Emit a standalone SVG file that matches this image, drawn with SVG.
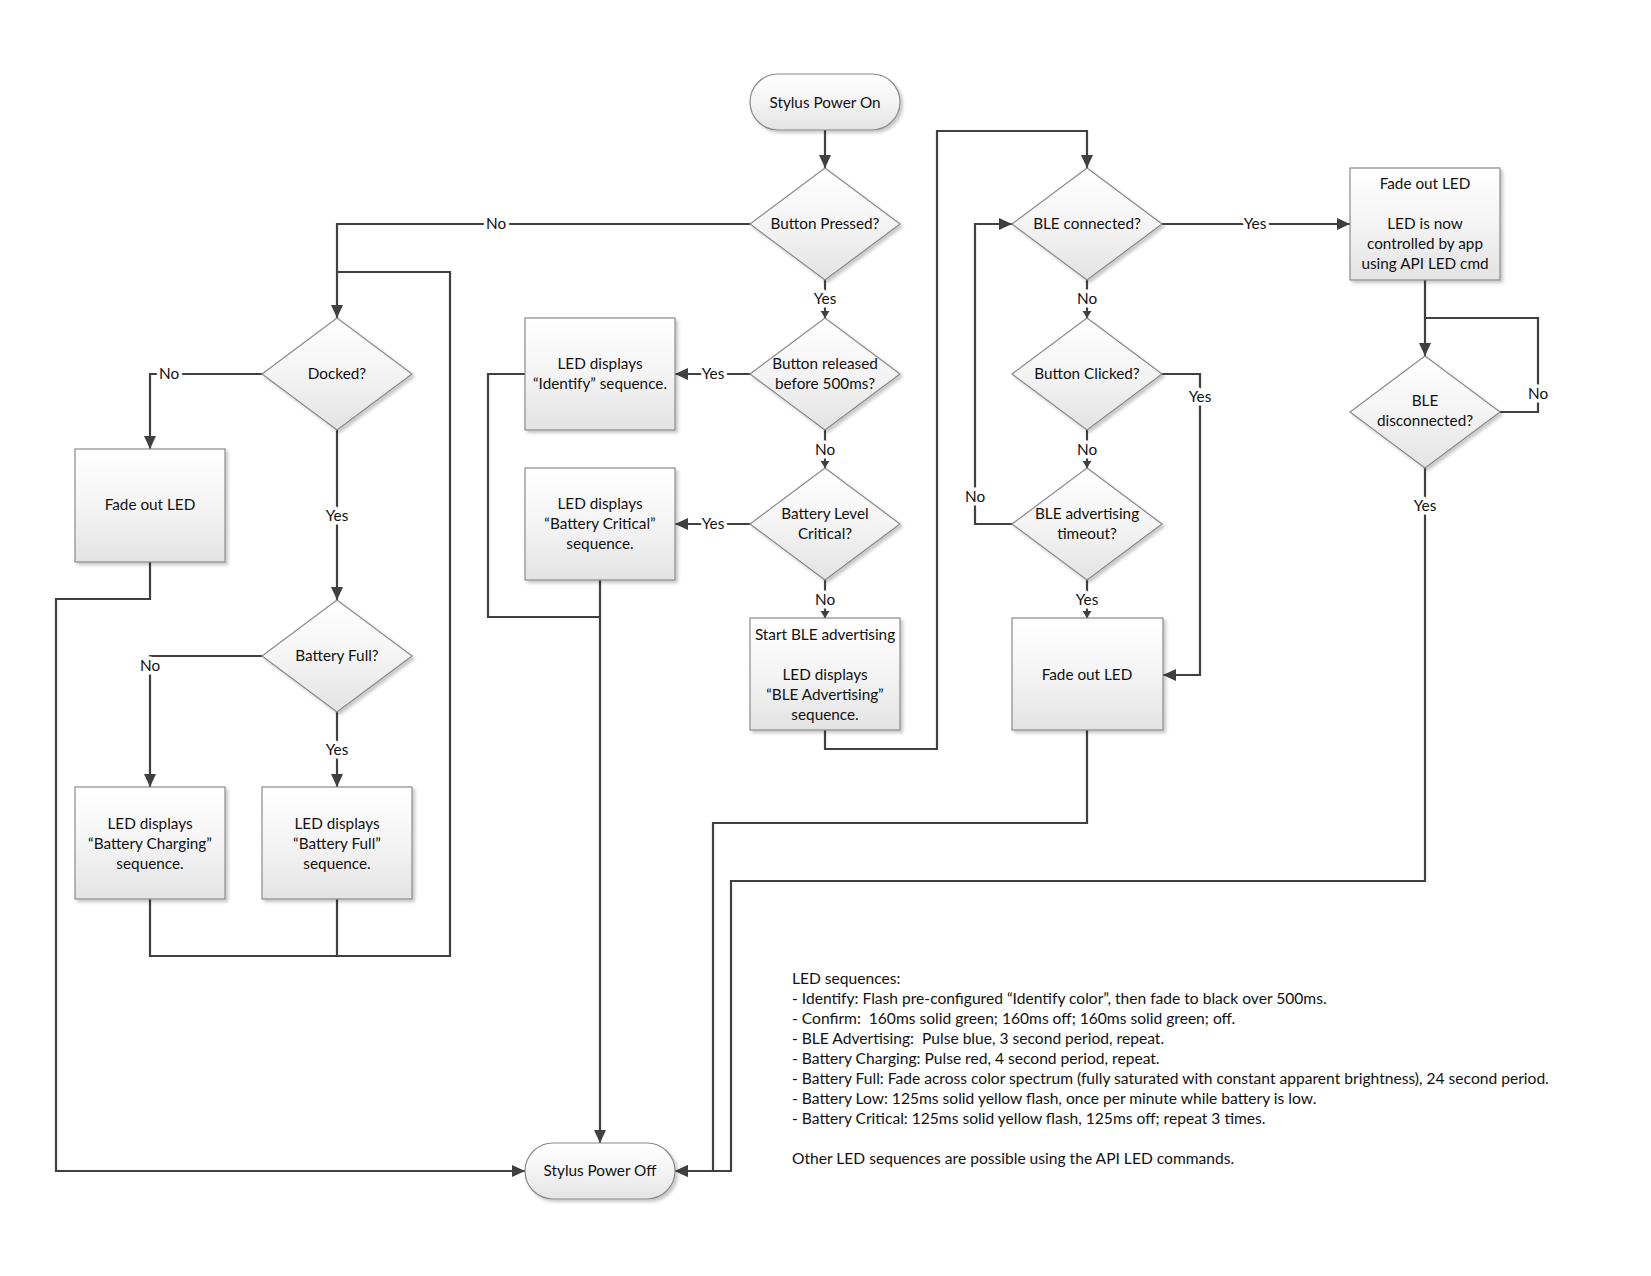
<svg xmlns="http://www.w3.org/2000/svg" width="1651" height="1276" viewBox="0 0 1651 1276">
<defs>
<linearGradient id="g" x1="0" y1="0" x2="0" y2="1">
<stop offset="0" stop-color="#ffffff"/>
<stop offset="0.5" stop-color="#f4f4f4"/>
<stop offset="1" stop-color="#e3e3e3"/>
</linearGradient>
<filter id="sh" x="-10%" y="-10%" width="125%" height="125%">
<feDropShadow dx="2.5" dy="2.5" stdDeviation="1.5" flood-color="#000" flood-opacity="0.22"/>
</filter>
<marker id="ab" markerUnits="userSpaceOnUse" markerWidth="14" markerHeight="12" refX="13" refY="6" orient="auto">
<path d="M0,0 L13,6 L0,12 z" fill="#404040"/>
</marker>
<marker id="as" markerUnits="userSpaceOnUse" markerWidth="8" markerHeight="10" refX="7" refY="5" orient="auto">
<path d="M0,0.5 L7,5 L0,9.5 z" fill="#404040"/>
</marker>
</defs>
<style>
.shape{fill:url(#g);stroke:#8a8a8a;stroke-width:1.2;filter:url(#sh)}
.t{font-family:Lato,"Liberation Sans",sans-serif;font-size:15.3px;fill:#111;text-anchor:middle}
.lbl{font-family:Lato,"Liberation Sans",sans-serif;font-size:15.3px;fill:#111;text-anchor:middle;stroke:#fff;stroke-width:7;stroke-linejoin:round;paint-order:stroke}
.c{fill:none;stroke:#404040;stroke-width:2.2}
.big{marker-end:url(#ab)}
.sm{marker-end:url(#as)}
.leg{font-family:Lato,"Liberation Sans",sans-serif;font-size:15.6px;fill:#111}
</style>
<rect width="1651" height="1276" fill="#fff"/>

<g id="connectors">
<path class="c big" d="M825,130 V168"/>
<path class="c big" d="M750,224 H337 V318"/>
<path class="c" d="M150,899 V956 H450 V272 H337"/>
<path class="c" d="M337,899 V956"/>
<path class="c big" d="M262,374 H150 V449"/>
<path class="c big" d="M337,430 V600"/>
<path class="c big" d="M150,562 V599 H56 V1171 H525"/>
<path class="c big" d="M262,656 H150 V787"/>
<path class="c big" d="M337,712 V787"/>
<path class="c sm" d="M825,280 V318"/>
<path class="c big" d="M750,374 H675"/>
<path class="c sm" d="M825,430 V468"/>
<path class="c big" d="M750,524 H675"/>
<path class="c sm" d="M825,580 V618"/>
<path class="c" d="M525,374 H488 V617 H600"/>
<path class="c big" d="M600,580 V1143"/>
<path class="c big" d="M825,730 V749 H937 V131 H1087 V168"/>
<path class="c sm" d="M1087,280 V318"/>
<path class="c sm" d="M1087,430 V468"/>
<path class="c sm" d="M1087,580 V618"/>
<path class="c big" d="M1012,524 H975 V224 H1012"/>
<path class="c big" d="M1162,374 H1200 V675 H1163"/>
<path class="c big" d="M1162,224 H1350"/>
<path class="c big" d="M1087,730 V823 H713 V1171 H675"/>
<path class="c big" d="M1425,280 V356"/>
<path class="c" d="M1500,412 H1538 V318 H1425"/>
<path class="c big" d="M1425,468 V881 H731 V1171 H675"/>
<text class="lbl" x="496" y="229">No</text>
<text class="lbl" x="169" y="379">No</text>
<text class="lbl" x="337" y="521">Yes</text>
<text class="lbl" x="150" y="671">No</text>
<text class="lbl" x="337" y="755">Yes</text>
<text class="lbl" x="825" y="304">Yes</text>
<text class="lbl" x="713" y="379">Yes</text>
<text class="lbl" x="825" y="455">No</text>
<text class="lbl" x="713" y="529">Yes</text>
<text class="lbl" x="825" y="605">No</text>
<text class="lbl" x="1087" y="304">No</text>
<text class="lbl" x="1087" y="455">No</text>
<text class="lbl" x="1087" y="605">Yes</text>
<text class="lbl" x="975" y="502">No</text>
<text class="lbl" x="1200" y="402">Yes</text>
<text class="lbl" x="1255" y="229">Yes</text>
<text class="lbl" x="1538" y="399">No</text>
<text class="lbl" x="1425" y="511">Yes</text>
</g>

<g id="power-on">
<rect class="shape" x="750" y="74" width="150" height="56" rx="28"/>
<text class="t" x="825" y="108">Stylus Power On</text>
</g>
<g id="button-pressed">
<polygon class="shape" points="750,224 825,168 900,224 825,280"/>
<text class="t" x="825" y="229">Button Pressed?</text>
</g>
<g id="docked">
<polygon class="shape" points="262,374 337,318 412,374 337,430"/>
<text class="t" x="337" y="379">Docked?</text>
</g>
<g id="fade-out-left">
<rect class="shape" x="75" y="449" width="150" height="113"/>
<text class="t" x="150" y="510">Fade out LED</text>
</g>
<g id="battery-full">
<polygon class="shape" points="262,656 337,600 412,656 337,712"/>
<text class="t" x="337" y="661">Battery Full?</text>
</g>
<g id="led-charging">
<rect class="shape" x="75" y="787" width="150" height="112"/>
<text class="t" x="150" y="829">LED displays</text>
<text class="t" x="150" y="849">“Battery Charging”</text>
<text class="t" x="150" y="869">sequence.</text>
</g>
<g id="led-full">
<rect class="shape" x="262" y="787" width="150" height="112"/>
<text class="t" x="337" y="829">LED displays</text>
<text class="t" x="337" y="849">“Battery Full”</text>
<text class="t" x="337" y="869">sequence.</text>
</g>
<g id="button-released">
<polygon class="shape" points="750,374 825,318 900,374 825,430"/>
<text class="t" x="825" y="369">Button released</text>
<text class="t" x="825" y="389">before 500ms?</text>
</g>
<g id="led-identify">
<rect class="shape" x="525" y="318" width="150" height="112"/>
<text class="t" x="600" y="369">LED displays</text>
<text class="t" x="600" y="389">“Identify” sequence.</text>
</g>
<g id="battery-level">
<polygon class="shape" points="750,524 825,468 900,524 825,580"/>
<text class="t" x="825" y="519">Battery Level</text>
<text class="t" x="825" y="539">Critical?</text>
</g>
<g id="led-critical">
<rect class="shape" x="525" y="468" width="150" height="112"/>
<text class="t" x="600" y="509">LED displays</text>
<text class="t" x="600" y="529">“Battery Critical”</text>
<text class="t" x="600" y="549">sequence.</text>
</g>
<g id="start-ble">
<rect class="shape" x="750" y="618" width="150" height="112"/>
<text class="t" x="825" y="640">Start BLE advertising</text>
<text class="t" x="825" y="680">LED displays</text>
<text class="t" x="825" y="700">“BLE Advertising”</text>
<text class="t" x="825" y="720">sequence.</text>
</g>
<g id="ble-connected">
<polygon class="shape" points="1012,224 1087,168 1162,224 1087,280"/>
<text class="t" x="1087" y="229">BLE connected?</text>
</g>
<g id="button-clicked">
<polygon class="shape" points="1012,374 1087,318 1162,374 1087,430"/>
<text class="t" x="1087" y="379">Button Clicked?</text>
</g>
<g id="ble-timeout">
<polygon class="shape" points="1012,524 1087,468 1162,524 1087,580"/>
<text class="t" x="1087" y="519">BLE advertising</text>
<text class="t" x="1087" y="539">timeout?</text>
</g>
<g id="fade-out-mid">
<rect class="shape" x="1012" y="618" width="151" height="112"/>
<text class="t" x="1087" y="680">Fade out LED</text>
</g>
<g id="fade-out-app">
<rect class="shape" x="1350" y="168" width="150" height="112"/>
<text class="t" x="1425" y="189">Fade out LED</text>
<text class="t" x="1425" y="229">LED is now</text>
<text class="t" x="1425" y="249">controlled by app</text>
<text class="t" x="1425" y="269">using API LED cmd</text>
</g>
<g id="ble-disconnected">
<polygon class="shape" points="1350,412 1425,356 1500,412 1425,468"/>
<text class="t" x="1425" y="406">BLE</text>
<text class="t" x="1425" y="426">disconnected?</text>
</g>
<g id="power-off">
<rect class="shape" x="525" y="1143" width="150" height="56" rx="28"/>
<text class="t" x="600" y="1176">Stylus Power Off</text>
</g>

<g id="legend">
<text class="leg" x="792" y="984">LED sequences:</text>
<text class="leg" x="792" y="1004">- Identify: Flash pre-configured “Identify color”, then fade to black over 500ms.</text>
<text class="leg" x="792" y="1024" xml:space="preserve">- Confirm:  160ms solid green; 160ms off; 160ms solid green; off.</text>
<text class="leg" x="792" y="1044" xml:space="preserve">- BLE Advertising:  Pulse blue, 3 second period, repeat.</text>
<text class="leg" x="792" y="1064">- Battery Charging: Pulse red, 4 second period, repeat.</text>
<text class="leg" x="792" y="1084">- Battery Full: Fade across color spectrum (fully saturated with constant apparent brightness), 24 second period.</text>
<text class="leg" x="792" y="1104">- Battery Low: 125ms solid yellow flash, once per minute while battery is low.</text>
<text class="leg" x="792" y="1124">- Battery Critical: 125ms solid yellow flash, 125ms off; repeat 3 times.</text>
<text class="leg" x="792" y="1164">Other LED sequences are possible using the API LED commands.</text>
</g>
</svg>
